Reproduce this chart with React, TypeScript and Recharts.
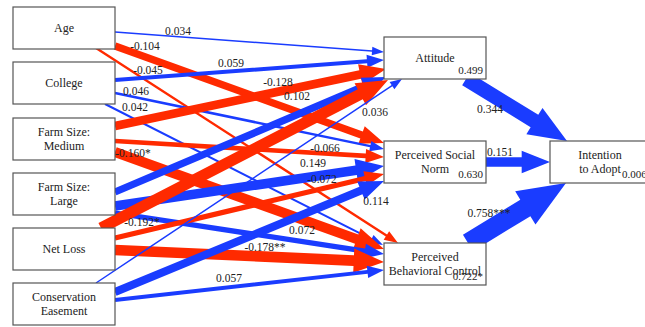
import { ReferenceLine, Scatter, ScatterChart, XAxis, YAxis } from "recharts"

const WIDTH = 645
const HEIGHT = 327

const RED = "#ff2a00"
const BLUE = "#1a3cff"
const INK = "#222"
const FONT = "Liberation Serif, DejaVu Serif, serif"

// exogenous variables (left column); "|" splits a name over two lines
const predictors = [
  "Age",
  "College",
  "Farm Size:|Medium",
  "Farm Size:|Large",
  "Net Loss",
  "Conservation|Easement",
]
// theory-of-planned-behaviour constructs (middle column)
const constructs = ["Attitude", "Perceived Social|Norm", "Perceived|Behavioral Control"]
const outcome = "Intention|to Adopt"

// path coefficients into Attitude, Social Norm, Behavioral Control
const ageCoef = [0.034, -0.104, -0.045]
const collegeCoef = [0.059, 0.046, 0.042]
const mediumCoef = [-0.128, -0.066, -0.16]
const largeCoef = [0.102, 0.149, 0.072]
const netLossCoef = [-0.192, -0.072, -0.178]
const easementCoef = [0.036, 0.114, 0.057]

const ageSig = ["", "", ""]
const collegeSig = ["", "", ""]
const mediumSig = ["", "", "*"]
const largeSig = ["", "", ""]
const netLossSig = ["*", "", "**"]
const easementSig = ["", "", ""]

// constructs -> intention
const intentionCoef = [0.344, 0.151, 0.758]
const intentionSig = ["", "", "***"]

// explained variance
const constructR2 = [0.499, 0.63, 0.722]
const constructR2Sig = ["", "", "*"]
const intentionR2 = 0.006

const predCoefs = [ageCoef, collegeCoef, mediumCoef, largeCoef, netLossCoef, easementCoef]
const predSigs = [ageSig, collegeSig, mediumSig, largeSig, netLossSig, easementSig]

// ---- layout (data units == pixels) ----
const BOX_H = 42
const predBox = { x: 13, w: 102 }
const predTops = [7, 62, 118, 173, 228, 283]
const constructBox = { x: 384, w: 102 }
const constructTops = [37, 141, 243]
const outcomeBox = { x: 550, y: 141, w: 100 }

type Geom = { seg: [number, number, number, number]; label: [number, number] }

// start/end of each predictor arrow and where its coefficient sits
const predGeom: Geom[][] = [
  [
    { seg: [115, 32, 384, 52], label: [178, 31] },
    { seg: [115, 46, 384, 143], label: [145, 46] },
    { seg: [96, 48, 398, 243], label: [148, 70] },
  ],
  [
    { seg: [115, 80, 384, 60], label: [231, 63] },
    { seg: [115, 93, 384, 149], label: [136, 91] },
    { seg: [105, 104, 383, 245], label: [135, 107] },
  ],
  [
    { seg: [115, 126, 386, 69], label: [278, 82] },
    { seg: [115, 141, 384, 157], label: [325, 148] },
    { seg: [115, 152, 384, 249], label: [133, 153] },
  ],
  [
    { seg: [115, 192, 386, 77], label: [297, 96] },
    { seg: [115, 206, 384, 166], label: [313, 163] },
    { seg: [115, 213, 384, 254], label: [302, 230] },
  ],
  [
    { seg: [101, 228, 388, 80], label: [142, 222] },
    { seg: [115, 238, 384, 174], label: [322, 179] },
    { seg: [115, 250, 384, 262], label: [265, 247] },
  ],
  [
    { seg: [96, 283, 402, 79], label: [375, 112] },
    { seg: [115, 292, 384, 181], label: [376, 201] },
    { seg: [115, 300, 384, 270], label: [229, 278] },
  ],
]

const intentionGeom: Geom[] = [
  { seg: [466, 79, 567, 141], label: [490, 109] },
  { seg: [486, 162, 550, 162], label: [500, 152] },
  { seg: [468, 243, 566, 183], label: [489, 213] },
]

// arrow thickness grows with |coefficient| (log scale, floored)
const shaftWidth = (c: number) => Math.min(22, Math.max(1.5, 21 + 6 * Math.log(Math.abs(c))))

const fmt = (v: number) => v.toFixed(3)

type Edge = {
  id: string
  coef: number
  text: string
  seg: [number, number, number, number]
  label: [number, number]
}

const edges: Edge[] = []
predCoefs.forEach((row, i) =>
  row.forEach((c, j) =>
    edges.push({
      id: `p${i}-${j}`,
      coef: c,
      text: fmt(c) + predSigs[i][j],
      ...predGeom[i][j],
    })
  )
)
intentionCoef.forEach((c, j) =>
  edges.push({
    id: `i${j}`,
    coef: c,
    text: fmt(c) + intentionSig[j],
    ...intentionGeom[j],
  })
)

type NodeRow = {
  x: number
  y: number
  w: number
  name: string
  r2?: string
  r2Start?: boolean
}

const nodes: NodeRow[] = [
  ...predictors.map((name, i) => ({
    x: predBox.x + predBox.w / 2,
    y: predTops[i] + BOX_H / 2,
    w: predBox.w,
    name,
  })),
  ...constructs.map((name, i) => ({
    x: constructBox.x + constructBox.w / 2,
    y: constructTops[i] + BOX_H / 2,
    w: constructBox.w,
    name,
    r2: fmt(constructR2[i]) + constructR2Sig[i],
  })),
  {
    x: outcomeBox.x + outcomeBox.w / 2,
    y: outcomeBox.y + BOX_H / 2,
    w: outcomeBox.w,
    name: outcome,
    r2: fmt(intentionR2),
    r2Start: true,
  },
]

const labelRows = edges.map((e) => ({ x: e.label[0], y: e.label[1], text: e.text }))

function arrowShape(coef: number) {
  const w = shaftWidth(coef)
  const hw = 6 + 1.7 * w
  const hl = 9 + 2 * w
  const fill = coef < 0 ? RED : BLUE
  return (p: any) => {
    const { x1, y1, x2, y2 } = p
    const dx = x2 - x1
    const dy = y2 - y1
    const len = Math.hypot(dx, dy) || 1
    const ux = dx / len
    const uy = dy / len
    const nx = -uy
    const ny = ux
    const bx = x2 - ux * hl
    const by = y2 - uy * hl
    const pts = [
      [x1 + (nx * w) / 2, y1 + (ny * w) / 2],
      [bx + (nx * w) / 2, by + (ny * w) / 2],
      [bx + (nx * hw) / 2, by + (ny * hw) / 2],
      [x2, y2],
      [bx - (nx * hw) / 2, by - (ny * hw) / 2],
      [bx - (nx * w) / 2, by - (ny * w) / 2],
      [x1 - (nx * w) / 2, y1 - (ny * w) / 2],
    ]
    return <polygon points={pts.map((q) => q.join(",")).join(" ")} fill={fill} />
  }
}

const textStyle = { fontFamily: FONT }

function NodeBox(props: any) {
  const { cx, cy, payload } = props
  const n = payload as NodeRow
  const lines = n.name.split("|")
  const left = cx - n.w / 2
  const top = cy - BOX_H / 2
  const lineH = 14
  const y0 = cy - ((lines.length - 1) * lineH) / 2
  return (
    <g>
      <rect
        x={left}
        y={top}
        width={n.w}
        height={BOX_H}
        fill="#fff"
        stroke="#555"
        strokeWidth={1.2}
      />
      {lines.map((l, k) => (
        <text
          key={k}
          x={cx}
          y={y0 + k * lineH}
          textAnchor="middle"
          dominantBaseline="central"
          style={textStyle}
          fontSize={12}
          fill={INK}
        >
          {l}
        </text>
      ))}
      {n.r2 && (
        <text
          x={n.r2Start ? left + 72 : left + n.w - 3}
          y={top + BOX_H - 5}
          textAnchor={n.r2Start ? "start" : "end"}
          style={textStyle}
          fontSize={11}
          fill={INK}
        >
          {n.r2}
        </text>
      )}
    </g>
  )
}

function CoefLabel(props: any) {
  const { cx, cy, payload } = props
  return (
    <text
      x={cx}
      y={cy}
      textAnchor="middle"
      dominantBaseline="central"
      style={textStyle}
      fontSize={11.5}
      fill={INK}
    >
      {payload.text}
    </text>
  )
}

export default function App() {
  return (
    <div style={{ position: "absolute", left: 0, top: 0, background: "#fff" }}>
      <ScatterChart
        width={WIDTH}
        height={HEIGHT}
        margin={{ top: 0, right: 0, bottom: 0, left: 0 }}
      >
        <XAxis type="number" dataKey="x" domain={[0, WIDTH]} hide allowDataOverflow />
        <YAxis type="number" dataKey="y" domain={[0, HEIGHT]} reversed hide allowDataOverflow />
        {edges.map((e) => (
          <ReferenceLine
            key={e.id}
            segment={[
              { x: e.seg[0], y: e.seg[1] },
              { x: e.seg[2], y: e.seg[3] },
            ]}
            ifOverflow="visible"
            shape={arrowShape(e.coef)}
          />
        ))}
        <Scatter data={nodes} shape={NodeBox} isAnimationActive={false} />
        <Scatter data={labelRows} shape={CoefLabel} isAnimationActive={false} />
      </ScatterChart>
    </div>
  )
}
